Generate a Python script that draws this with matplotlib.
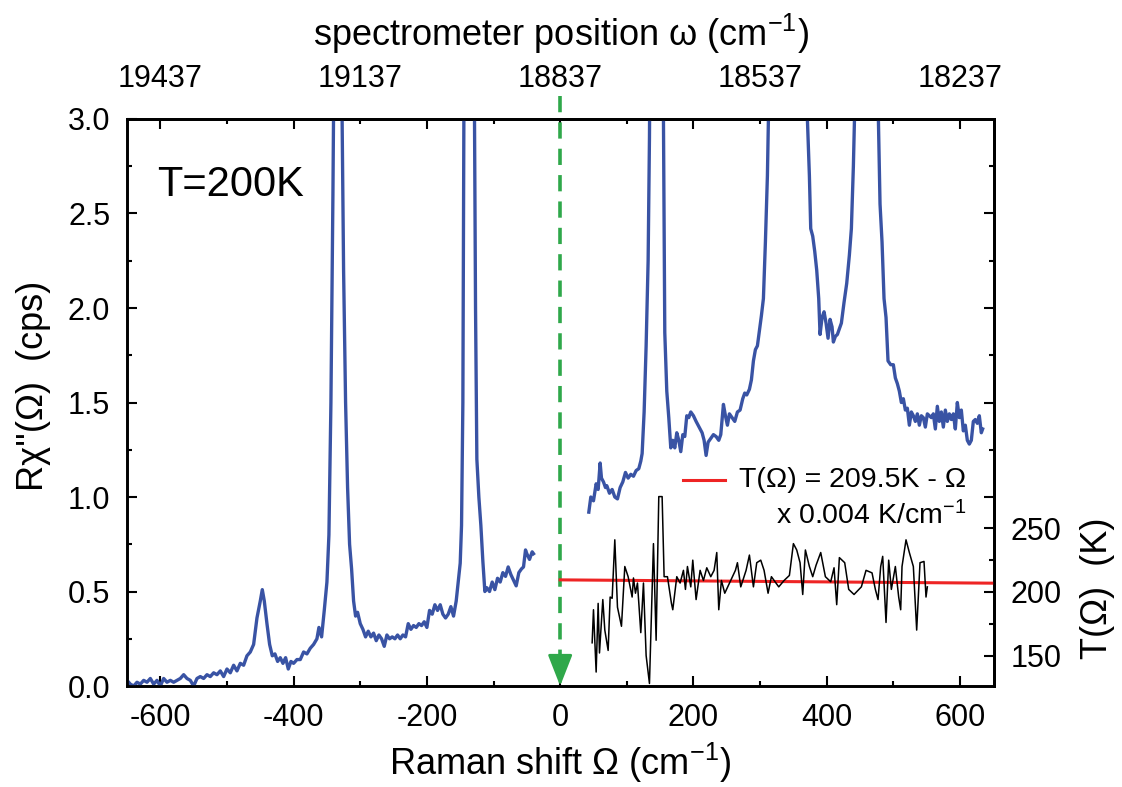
import matplotlib
matplotlib.use("Agg")
import matplotlib.pyplot as plt
from matplotlib.ticker import MultipleLocator, FixedLocator
from matplotlib.lines import Line2D

plt.rcParams['font.family'] = ['Liberation Sans', 'DejaVu Sans']
plt.rcParams['mathtext.fontset'] = 'custom'
plt.rcParams['mathtext.rm'] = 'Liberation Sans'
plt.rcParams['mathtext.it'] = 'Liberation Sans'
plt.rcParams['axes.unicode_minus'] = False

# Raman response, anti-Stokes side (cps)
shift_as = [-650, -645, -640, -635, -630, -625, -620, -615, -610, -605, -600, -595, -590, -585,
            -580, -575, -570, -565, -560, -555, -550, -545, -540, -535, -530, -525, -520, -515,
            -510, -505, -500, -495, -490, -485, -480, -475, -470, -465, -460, -455, -450, -447,
            -444, -440, -436, -432, -428, -424, -420, -416, -412, -408, -404, -400, -395, -390,
            -385, -380, -375, -370, -365, -362, -358, -354, -350, -347, -344, -341, -339, -336,
            -330, -328, -325, -322, -319, -316, -313, -310, -307, -304, -300, -296, -292, -288,
            -284, -280, -276, -272, -268, -264, -260, -256, -252, -248, -244, -240, -236, -232,
            -228, -224, -220, -216, -212, -208, -204, -200, -196, -192, -188, -184, -180, -176,
            -172, -168, -164, -160, -156, -153, -150, -148, -146, -144, -140, -131, -129, -127,
            -125, -122, -119, -116, -113, -110, -106, -102, -98, -94, -90, -86, -82, -78, -74,
            -70, -66, -62, -58, -55, -52, -50, -46, -42, -40]
chi_as = [0.03, 0.01, 0.00, 0.02, 0.01, 0.03, 0.02, 0.04, 0.01, 0.03, 0.00, 0.04, 0.02, 0.03,
          0.02, 0.03, 0.04, 0.06, 0.04, 0.03, 0.00, 0.04, 0.05, 0.04, 0.06, 0.05, 0.07, 0.06,
          0.08, 0.05, 0.09, 0.07, 0.11, 0.08, 0.12, 0.11, 0.16, 0.18, 0.22, 0.36, 0.45, 0.51,
          0.45, 0.33, 0.22, 0.16, 0.17, 0.13, 0.15, 0.12, 0.15, 0.09, 0.13, 0.12, 0.14, 0.14,
          0.18, 0.17, 0.20, 0.22, 0.25, 0.31, 0.26, 0.40, 0.55, 0.80, 1.50, 2.60, 3.50, 4.00,
          4.00, 3.30, 2.20, 1.50, 1.05, 0.75, 0.62, 0.45, 0.37, 0.39, 0.33, 0.30, 0.26, 0.29,
          0.26, 0.28, 0.24, 0.27, 0.25, 0.21, 0.27, 0.25, 0.26, 0.25, 0.27, 0.25, 0.27, 0.26,
          0.33, 0.30, 0.32, 0.31, 0.33, 0.32, 0.34, 0.31, 0.40, 0.38, 0.43, 0.40, 0.43, 0.38,
          0.36, 0.38, 0.42, 0.37, 0.45, 0.55, 0.65, 0.85, 1.50, 3.50, 4.00, 4.00, 3.30, 2.00,
          1.20, 1.00, 0.85, 0.66, 0.50, 0.52, 0.50, 0.55, 0.51, 0.57, 0.55, 0.60, 0.58, 0.63, 0.59,
          0.56, 0.53, 0.60, 0.62, 0.63, 0.72, 0.70, 0.67, 0.71, 0.70]

# Raman response, Stokes side (cps)
shift_s = [43, 46, 50, 54, 57, 60, 62, 65, 68, 70, 74, 78, 82, 86, 90, 94, 98, 102, 106, 110,
           114, 118, 121, 123, 126, 129, 132, 134, 136, 153, 155, 157, 160, 163, 166, 169, 172,
           175, 178, 181, 184, 187, 190, 193, 196, 200, 204, 207, 210, 213, 216, 219, 222, 226,
           230, 234, 238, 241, 245, 248, 251, 254, 258, 262, 266, 270, 274, 277, 280, 284, 287,
           290, 293, 296, 299, 302, 305, 308, 311, 313, 315, 368, 371, 374, 376, 379, 382, 385,
           388, 390, 393, 396, 399, 402, 405, 408, 410, 413, 416, 419, 422, 426, 430, 434, 437,
           440, 443, 445, 474, 477, 480, 483, 486, 489, 492, 496, 500, 503, 506, 509, 512, 515,
           518, 521, 524, 527, 530, 533, 536, 539, 542, 545, 548, 551, 554, 557, 560, 563, 566,
           569, 572, 575, 578, 581, 584, 587, 590, 593, 596, 599, 602, 605, 608, 611, 614, 617,
           620, 623, 626, 629, 632, 634]
chi_s = [0.92, 1.00, 0.98, 1.07, 1.04, 1.18, 1.10, 1.08, 1.05, 1.06, 1.02, 1.04, 1.00, 0.99,
         1.05, 1.08, 1.13, 1.10, 1.12, 1.11, 1.14, 1.15, 1.19, 1.23, 1.45, 1.80, 2.25, 2.90,
         4.00, 4.00, 3.00, 1.87, 1.56, 1.42, 1.26, 1.30, 1.26, 1.34, 1.30, 1.24, 1.33, 1.32,
         1.43, 1.42, 1.45, 1.43, 1.40, 1.38, 1.36, 1.34, 1.30, 1.22, 1.29, 1.31, 1.33, 1.32,
         1.30, 1.33, 1.49, 1.43, 1.38, 1.44, 1.42, 1.40, 1.45, 1.46, 1.52, 1.55, 1.54, 1.57,
         1.62, 1.72, 1.78, 1.80, 1.88, 1.96, 2.05, 2.35, 2.70, 3.10, 4.00, 4.00, 3.00, 2.70,
         2.42, 2.38, 2.30, 2.20, 2.05, 1.86, 1.95, 1.98, 1.92, 1.84, 1.94, 1.90, 1.82, 1.85,
         1.86, 1.89, 1.92, 2.03, 2.13, 2.28, 2.42, 2.75, 3.20, 4.00, 4.00, 3.10, 2.55, 2.35,
         2.05, 1.95, 1.72, 1.70, 1.70, 1.63, 1.60, 1.56, 1.50, 1.52, 1.46, 1.47, 1.38, 1.45,
         1.43, 1.40, 1.44, 1.38, 1.43, 1.42, 1.37, 1.44, 1.43, 1.42, 1.44, 1.36, 1.48, 1.40,
         1.45, 1.37, 1.46, 1.40, 1.44, 1.41, 1.44, 1.36, 1.50, 1.42, 1.46, 1.35, 1.38, 1.30,
         1.28, 1.30, 1.40, 1.41, 1.39, 1.43, 1.34, 1.36]

# temperature from Stokes / anti-Stokes ratio (K)
shift_T = [48, 50, 54, 57, 59, 64, 67, 72, 75, 78, 82, 86, 92, 97, 102, 108, 110, 113, 116, 121,
           125, 129, 134, 140, 144, 148, 153, 156, 161, 167, 169, 175, 180, 185, 188, 191, 196,
           199, 204, 210, 215, 220, 226, 231, 235, 238, 242, 247, 255, 263, 266, 271, 279, 284,
           290, 295, 301, 306, 312, 317, 328, 336, 344, 350, 355, 360, 364, 368, 374, 379, 384,
           391, 398, 406, 411, 415, 419, 427, 433, 441, 452, 459, 468, 473, 477, 481, 484, 489,
           493, 497, 503, 508, 511, 513, 519, 524, 530, 535, 540, 546, 549, 551]
temp = [160, 186, 137, 191, 152, 194, 170, 154, 196, 195, 241, 188, 173, 220, 212, 196, 211,
        199, 207, 168, 207, 150, 128, 238, 162, 275, 275, 212, 212, 191, 186, 212, 207, 217,
        202, 220, 204, 225, 194, 217, 209, 219, 212, 217, 231, 186, 209, 199, 208, 217, 223,
        204, 217, 229, 204, 223, 225, 217, 199, 212, 204, 209, 213, 238, 233, 223, 198, 233,
        220, 212, 221, 231, 212, 208, 219, 190, 227, 223, 202, 198, 204, 217, 215, 202, 194,
        220, 228, 176, 225, 202, 220, 196, 186, 220, 241, 231, 220, 170, 223, 224, 196, 204]

# linear fit T(Omega) = 209.5 K - Omega x 0.004 K/cm-1
fit_shift = [0, 650]
fit_T = [209.5 - 0.004 * w for w in fit_shift]

laser_shift = 0
laser_omega = 18837
top_ticks = [19437, 19137, 18837, 18537, 18237]

blue = '#3953a4'
green = '#2fa84a'
red = '#ee2424'
lw_spine = 1.9
tick_fs = 22
label_fs = 26

fig = plt.figure(figsize=(11.22, 7.87), dpi=100)
ax = fig.add_axes([0.1132, 0.1283, 0.7727, 0.7205])

ax.plot(shift_as, chi_as, color=blue, lw=2.4, zorder=3)
ax.plot(shift_s, chi_s, color=blue, lw=2.4, zorder=3)

ax.set_xlim(-650, 651)
ax.set_ylim(0, 3.0)
ax.xaxis.set_major_locator(MultipleLocator(200))
ax.xaxis.set_minor_locator(MultipleLocator(100))
ax.yaxis.set_major_locator(MultipleLocator(0.5))
ax.yaxis.set_minor_locator(MultipleLocator(0.25))
ax.yaxis.set_major_formatter(matplotlib.ticker.FormatStrFormatter('%.1f'))
ax.tick_params(which='both', direction='in', top=True, right=False, width=1.5,
               labelsize=tick_fs, pad=12)
ax.tick_params(which='major', length=7.5)
ax.tick_params(which='minor', length=3.5)
for s in ax.spines.values():
    s.set_linewidth(lw_spine)

ax.set_xlabel('Raman shift Ω (cm$^{-1}$)', fontsize=label_fs, labelpad=6)
ax.set_ylabel("Rχ''(Ω)  (cps)", fontsize=label_fs)
ax.yaxis.set_label_coords(-0.088, 0.53)

# mirrored ticks on the right spine, upper part only
sec_r = ax.secondary_yaxis('right')
sec_r.yaxis.set_major_locator(FixedLocator([1.0, 1.5, 2.0, 2.5]))
sec_r.yaxis.set_minor_locator(FixedLocator([1.25, 1.75, 2.25, 2.75]))
sec_r.tick_params(which='both', direction='in', labelright=False, width=1.5)
sec_r.tick_params(which='major', length=7.5)
sec_r.tick_params(which='minor', length=3.5)
sec_r.spines['right'].set_linewidth(lw_spine)

# spectrometer position on top
sec_t = ax.secondary_xaxis('top', functions=(lambda x: laser_omega - x, lambda w: laser_omega - w))
sec_t.set_xticks(top_ticks)
sec_t.xaxis.set_minor_locator(FixedLocator([]))
sec_t.tick_params(length=0, labelsize=tick_fs, pad=18)
sec_t.spines['top'].set_linewidth(lw_spine)
sec_t.set_xlabel('spectrometer position ω (cm$^{-1}$)', fontsize=label_fs, labelpad=13)

# temperature axis
tax = ax.twinx()
tax.set_ylim(126, 572)
tax.plot(fit_shift, fit_T, color=red, lw=2.2, zorder=2)
tax.plot(shift_T, temp, color='black', lw=1.1, zorder=3)
tax.yaxis.set_major_locator(FixedLocator([150, 200, 250]))
tax.yaxis.set_minor_locator(FixedLocator([175, 225]))
tax.tick_params(which='both', direction='in', width=1.5, labelsize=tick_fs, pad=12)
tax.tick_params(which='major', length=7.5)
tax.tick_params(which='minor', length=3.5)
for s in tax.spines.values():
    s.set_linewidth(lw_spine)
tax.set_ylabel('T(Ω)  (K)', fontsize=label_fs)
tax.yaxis.set_label_coords(1.099, 0.173)

# laser line marker
ax.plot([laser_shift, laser_shift], [3.12, 0.12], color=green, lw=2.6,
        dashes=(4.5, 2.8), clip_on=False, zorder=4)
ax.annotate('', xy=(laser_shift, 0.0), xytext=(laser_shift, 0.16),
            arrowprops=dict(arrowstyle='-|>,head_length=0.97,head_width=0.38',
                            mutation_scale=20, color=green, lw=2.0,
                            shrinkA=0, shrinkB=0), zorder=4)

# legend
tax.add_line(Line2D([0.641, 0.690], [0.363, 0.363], transform=ax.transAxes,
                    color=red, lw=2.2))
ax.text(0.968, 0.363, 'T(Ω) = 209.5K - Ω', transform=ax.transAxes, fontsize=20.5,
        ha='right', va='center')
ax.text(0.968, 0.300, 'x 0.004 K/cm$^{-1}$', transform=ax.transAxes, fontsize=20.5,
        ha='right', va='center')

ax.text(0.035, 0.884, 'T=200K', transform=ax.transAxes, fontsize=30, ha='left', va='center')

fig.savefig('out.png', dpi=100)
